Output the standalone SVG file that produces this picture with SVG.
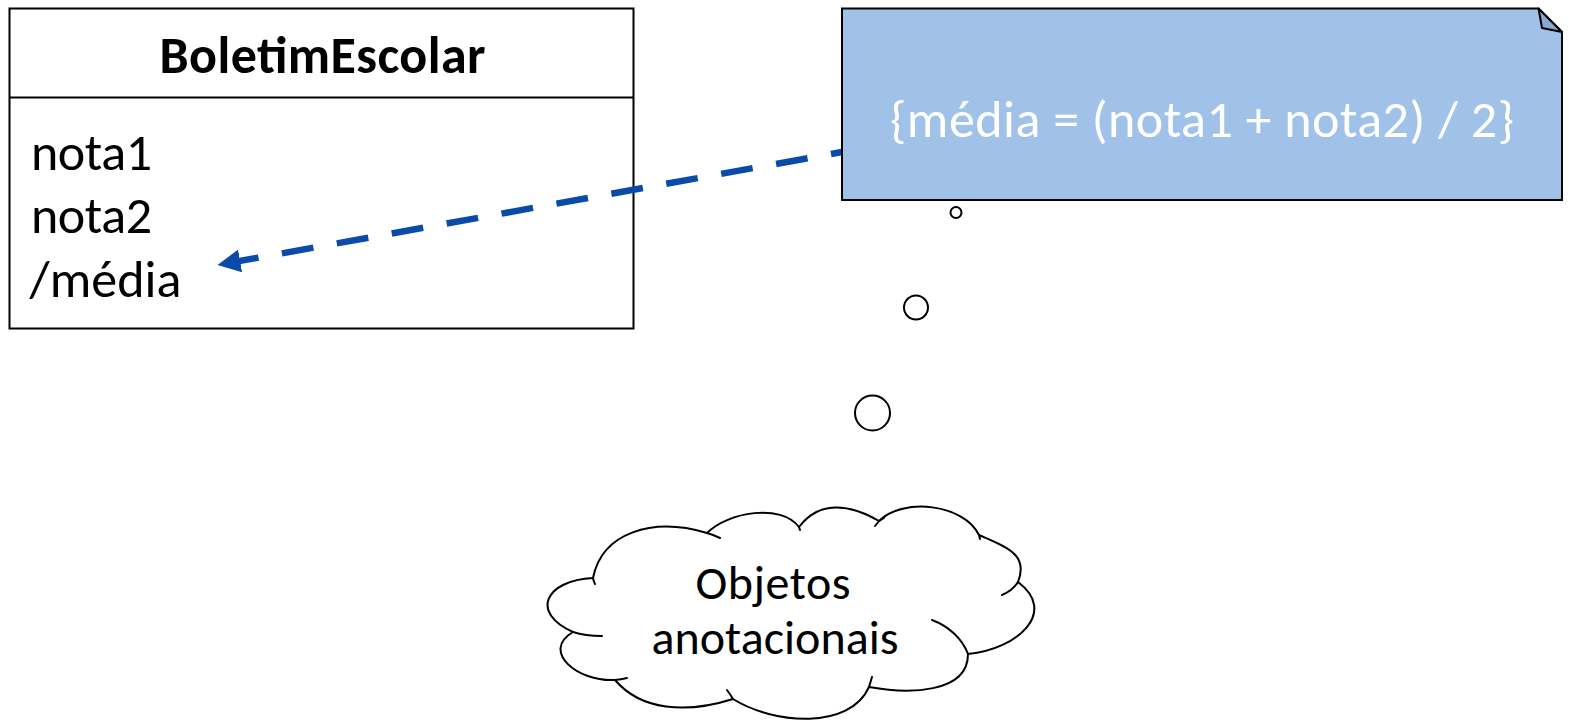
<svg xmlns="http://www.w3.org/2000/svg" width="1569" height="720" viewBox="0 0 1569 720">
  <style>
    .txt { font-family: Carlito, Lato, "Liberation Sans", sans-serif; fill: #000000; }
    .title { font-size: 52px; font-weight: bold; }
    .attr { font-size: 52px; }
    .notetxt { font-size: 52px; fill: #ffffff; }
    .cloudtxt { font-size: 48px; }
    .box { fill: #ffffff; stroke: #000000; stroke-width: 2; }
    .line { fill: none; stroke: #000000; stroke-width: 2; }
    .bubble { fill: #ffffff; stroke: #000000; stroke-width: 2; }
    .dep { fill: none; stroke: #0A4BAA; stroke-width: 6.5; stroke-dasharray: 32 23.8; stroke-dashoffset: 20.8; }
  </style>
  <defs>
    <marker id="arrowhead" markerUnits="userSpaceOnUse" markerWidth="24" markerHeight="24" refX="23" refY="11.5" orient="auto">
      <path d="M0,0 L23,11.5 L0,23 Z" fill="#0A4BAA"/>
    </marker>
  </defs>

  <g id="class-BoletimEscolar">
    <rect class="box" x="9.5" y="8.5" width="624" height="320"/>
    <line class="line" x1="9.5" y1="97.5" x2="633.5" y2="97.5"/>
    <text class="txt title" x="322.5" y="73" text-anchor="middle" textLength="326" lengthAdjust="spacing">BoletimEscolar</text>
    <text class="txt attr" x="31" y="170" textLength="121" lengthAdjust="spacing">nota1</text>
    <text class="txt attr" x="31" y="233" textLength="121" lengthAdjust="spacing">nota2</text>
    <text class="txt attr" x="29.5" y="297" textLength="152" lengthAdjust="spacing">/média</text>
  </g>

  <g id="connectors">
    <path class="dep" d="M 842 152 L 217.5 265" marker-end="url(#arrowhead)"/>
  </g>

  <g id="note-constraint">
    <path d="M 842 8.5 L 1538.5 8.5 L 1562 32 L 1562 200 L 842 200 Z" fill="#A0C2E8" stroke="#000000" stroke-width="2" stroke-linejoin="miter"/>
    <path d="M 1538.5 8.5 L 1542 28 L 1562 32 Z" fill="#8AA8CB" stroke="#000000" stroke-width="2" stroke-linejoin="round"/>
    <text class="txt notetxt" x="1202" y="137" text-anchor="middle" textLength="624" lengthAdjust="spacing">{média = (nota1 + nota2) / 2}</text>
  </g>

  <g id="thought-bubbles">
    <circle class="bubble" cx="956" cy="212.5" r="5.5"/>
    <circle class="bubble" cx="916" cy="307.5" r="12"/>
    <circle class="bubble" cx="872.5" cy="413" r="17.5"/>
  </g>

  <g id="cloud-objetos-anotacionais">
    <path fill="#ffffff" stroke="#000000" stroke-width="2" stroke-linejoin="round" d="M 593 578 C 602 533, 652 516.5, 707 533 C 728 512, 781 503, 799 527 C 819.4 499.8, 850 504, 879 521 C 903 497, 964 504, 979 535 C 1006 547, 1029 554, 1018 582 C 1058 612, 1018 649, 968 654 C 968 694, 908 694, 869 687 C 849.8 730.2, 773.8 724.4, 733 699 C 685.5 714, 641 710.4, 615 680 C 577 682, 540.7 651, 573 632 C 529.8 612.8, 545 580.4, 593 578 Z"/>
    <path fill="none" stroke="#000000" stroke-width="2" stroke-linecap="round" d="M 593 578 Q 593.5 581 595 584 M 707 533 Q 714 535 720 538 M 799 527 L 800 530 M 879 521 L 884 518 M 875 526 L 879 521 M 979 535 L 980 539 M 1018 582 C 1015 587, 1009 592, 1002 595 M 932 620 C 948 626, 962 638, 968 654 M 872 677 L 869 687 M 733 699 Q 730 694 727 690 M 615 680 Q 621 679.5 627 678 M 602 636 C 592 636, 582 635, 573 632"/>
    <text class="txt cloudtxt" x="773" y="599" text-anchor="middle" textLength="155" lengthAdjust="spacing">Objetos</text>
    <text class="txt cloudtxt" x="775" y="654" text-anchor="middle" textLength="247" lengthAdjust="spacing">anotacionais</text>
  </g>
</svg>
